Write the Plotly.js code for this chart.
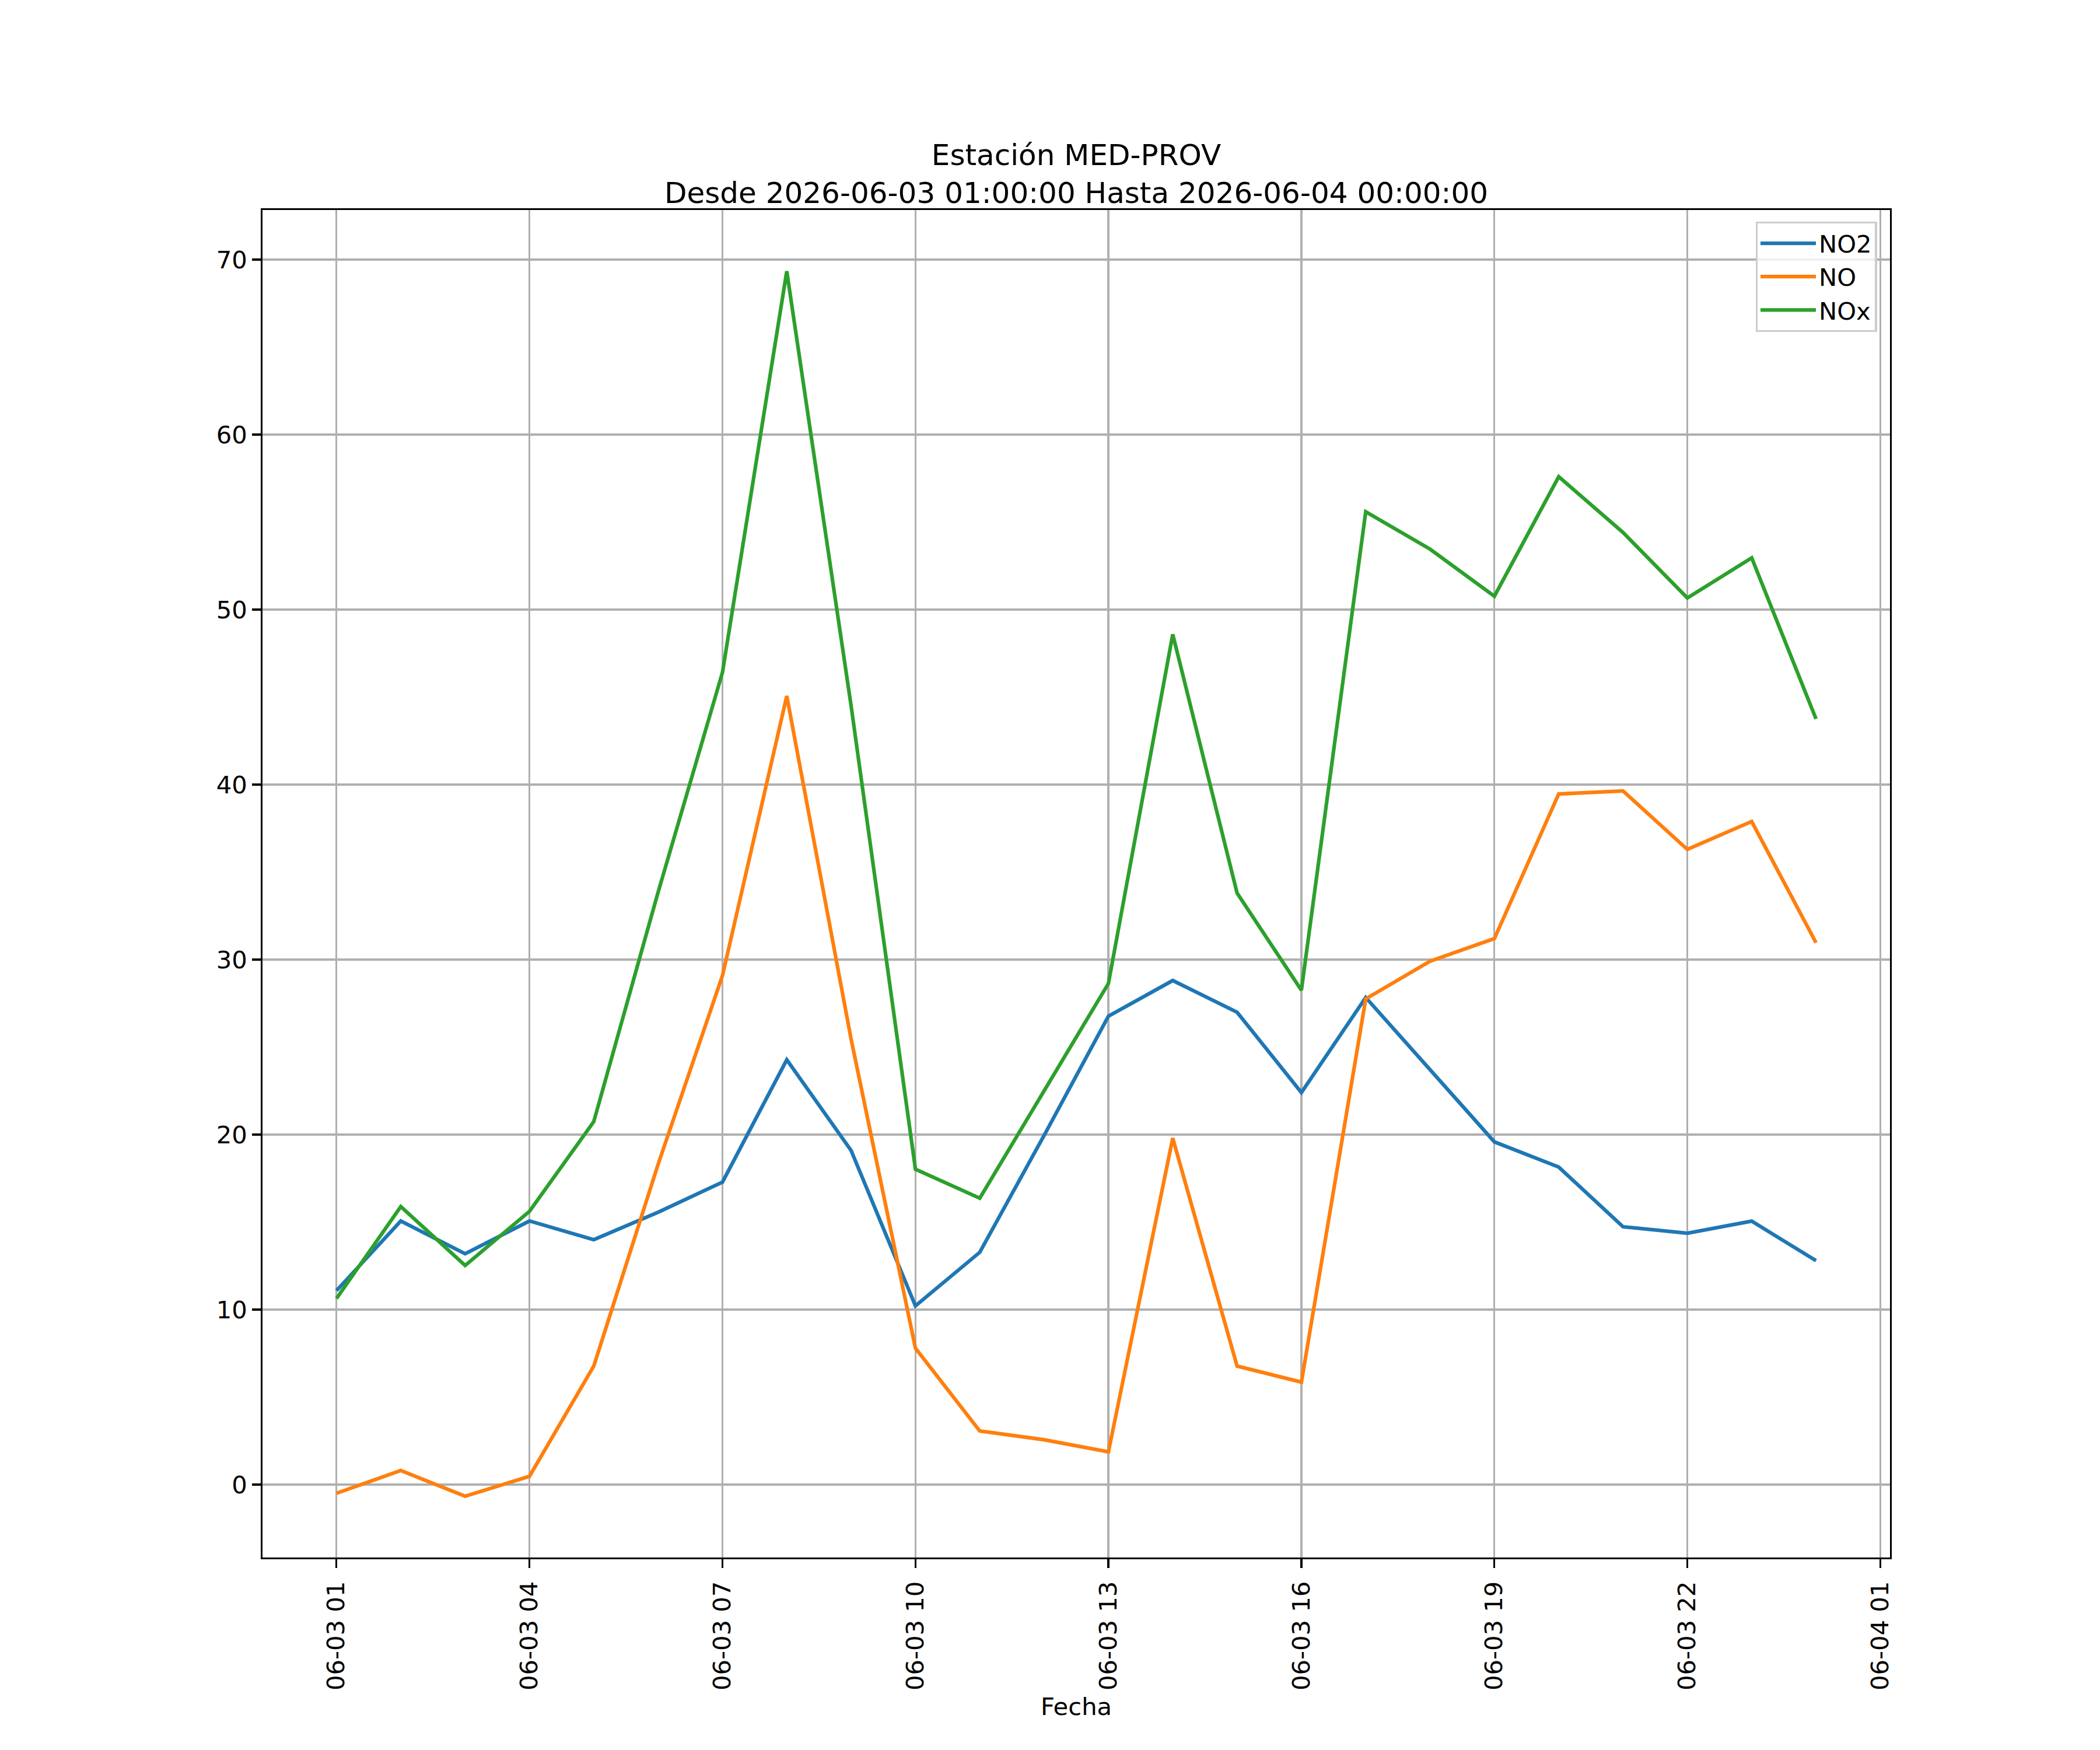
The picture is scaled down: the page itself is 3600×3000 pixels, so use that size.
<!DOCTYPE html>
<html>
<head>
<meta charset="utf-8">
<script src="https://cdn.plot.ly/plotly-3.0.1.min.js"></script>
<style>html,body{margin:0;padding:0;background:#fff;}</style>
</head>
<body>
<div id="chart" style="width:3600px;height:3000px;"></div>
<script>
const hours = [
  '2026-06-03 01:00','2026-06-03 02:00','2026-06-03 03:00','2026-06-03 04:00',
  '2026-06-03 05:00','2026-06-03 06:00','2026-06-03 07:00','2026-06-03 08:00',
  '2026-06-03 09:00','2026-06-03 10:00','2026-06-03 11:00','2026-06-03 12:00',
  '2026-06-03 13:00','2026-06-03 14:00','2026-06-03 15:00','2026-06-03 16:00',
  '2026-06-03 17:00','2026-06-03 18:00','2026-06-03 19:00','2026-06-03 20:00',
  '2026-06-03 21:00','2026-06-03 22:00','2026-06-03 23:00','2026-06-04 00:00'
];
const no2 = [11.08, 15.06, 13.19, 15.06, 13.99, 15.56, 17.28, 24.27, 19.09, 10.21, 13.27, 19.95,
             26.76, 28.80, 26.99, 22.40, 27.83, 23.69, 19.58, 18.14, 14.73, 14.36, 15.05, 12.79];
const no  = [-0.50, 0.80, -0.67, 0.47, 6.77, 18.30, 29.08, 45.06, 25.45, 7.79, 3.06, 2.56,
             1.87, 19.79, 6.77, 5.85, 27.75, 29.90, 31.20, 39.46, 39.63, 36.29, 37.89, 30.96];
const nox = [10.63, 15.88, 12.52, 15.61, 20.74, 33.85, 46.40, 69.33, 44.50, 18.02, 16.36, 22.50,
             28.63, 48.58, 33.80, 28.25, 55.59, 53.45, 50.76, 57.59, 54.40, 50.66, 52.95, 43.75];
const seriesNames = ['NO2', 'NO', 'NOx'];
const seriesColors = ['#1f77b4', '#ff7f0e', '#2ca02c'];
const titleLines = ['Estación MED-PROV', 'Desde 2026-06-03 01:00:00 Hasta 2026-06-04 00:00:00'];
const xLabel = 'Fecha';
const yTicks = [0, 10, 20, 30, 40, 50, 60, 70];

const FONT = 'DejaVu Sans, Liberation Sans, sans-serif';
const allSeries = [no2, no, nox];
const traces = allSeries.map((vals, i) => ({
  type: 'scatter', mode: 'lines', x: hours, y: vals, name: seriesNames[i],
  line: {color: seriesColors[i], width: 6.25}
}));

const layout = {
  width: 3600, height: 3000,
  paper_bgcolor: '#ffffff', plot_bgcolor: '#ffffff',
  margin: {l: 450, r: 360, t: 360, b: 330, pad: 0},
  font: {family: FONT, size: 41.7, color: '#000000'},
  showlegend: true,
  title: {
    text: titleLines.join('<br>'),
    font: {family: FONT, size: 50, color: '#000000'},
    x: 0.5, xref: 'paper', xanchor: 'center',
    y: 1, yref: 'paper', yanchor: 'bottom',
    pad: {b: 77}
  },
  xaxis: {
    type: 'date',
    range: ['2026-06-02 23:51:00', '2026-06-04 01:09:00'],
    tick0: '2026-06-03 01:00', dtick: 3 * 3600000,
    tickformat: '%m-%d %H', tickangle: -90,
    ticks: 'outside', ticklen: 14.6, tickwidth: 3.33, tickcolor: '#000000',
    ticklabelstandoff: 6,
    tickfont: {family: FONT, size: 41.7, color: '#000000'},
    showgrid: true, gridcolor: '#b0b0b0', gridwidth: 3.33,
    showline: true, linecolor: '#000000', linewidth: 3.33, mirror: true,
    zeroline: false,
    title: {text: xLabel, font: {family: FONT, size: 41.7, color: '#000000'}, standoff: 14},
    automargin: false
  },
  yaxis: {
    range: [-4.17, 72.83],
    tickmode: 'array', tickvals: yTicks, ticktext: yTicks.map(String),
    ticks: 'outside', ticklen: 14.6, tickwidth: 3.33, tickcolor: '#000000',
    tickfont: {family: FONT, size: 41.7, color: '#000000'},
    showgrid: true, gridcolor: '#b0b0b0', gridwidth: 3.33,
    showline: true, linecolor: '#000000', linewidth: 3.33, mirror: true,
    zeroline: false, automargin: false
  },
  legend: {
    x: 0.992, xanchor: 'right', y: 0.9913, yanchor: 'top',
    bgcolor: 'rgba(255,255,255,0.8)', bordercolor: '#cccccc', borderwidth: 3.3,
    itemwidth: 95,
    font: {family: FONT, size: 41.7, color: '#000000'}
  }
};

Plotly.newPlot('chart', traces, layout, {displayModeBar: false, staticPlot: true});
</script>
</body>
</html>
